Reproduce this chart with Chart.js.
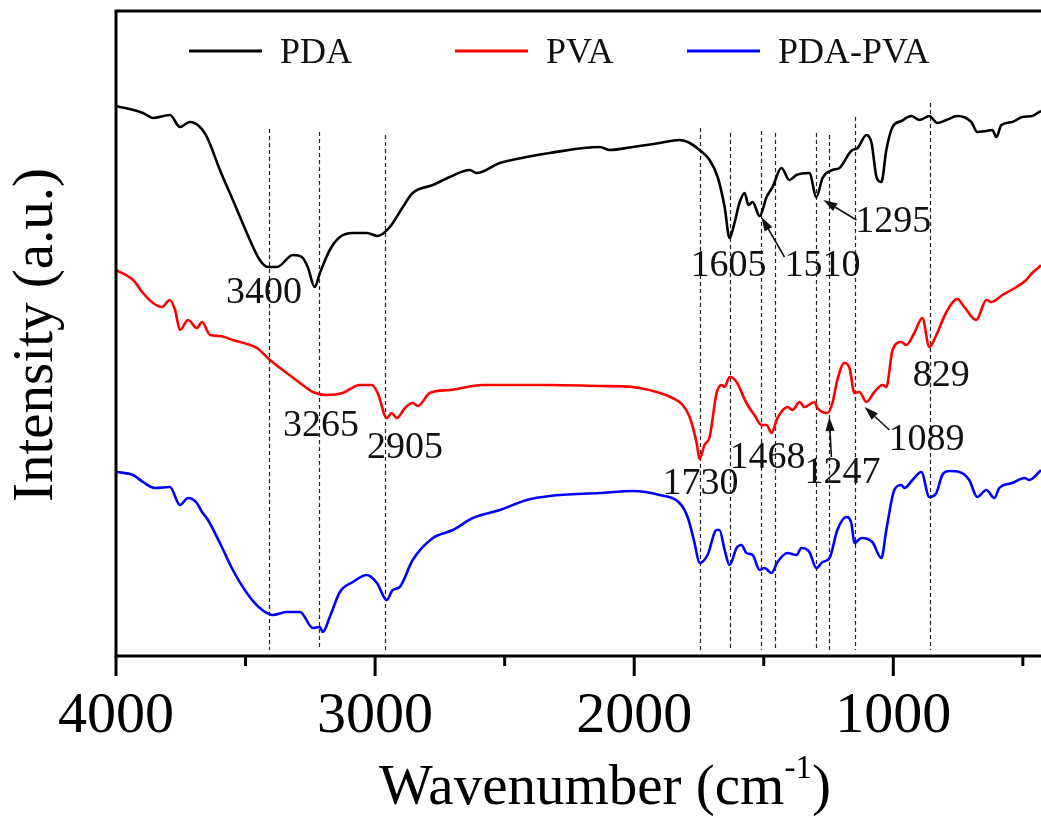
<!DOCTYPE html>
<html>
<head>
<meta charset="utf-8">
<title>FTIR PDA / PVA / PDA-PVA</title>
<script src="https://cdn.jsdelivr.net/npm/chart.js@4.4.1/dist/chart.umd.min.js"></script>
<style>
  html, body { margin: 0; padding: 0; background: #fff; overflow: hidden; }
  #wrap { width: 1041px; height: 818px; }
</style>
</head>
<body>
<div id="wrap"><canvas id="ftir" width="1041" height="818"></canvas></div>
<script>
// spectra (wavenumber in cm-1, intensity in a.u.)
const wnPDA = [4000, 3896, 3857, 3792, 3753, 3715, 3676, 3649, 3599, 3549, 3495, 3445, 3414, 3379, 3317, 3283, 3260, 3233, 3213, 3175, 3136, 3086, 3032, 2990, 2943, 2893, 2855, 2777, 2712, 2635, 2608, 2519, 2415, 2326, 2133, 2095, 2006, 1902, 1825, 1786, 1748, 1709, 1678, 1651, 1632, 1613, 1594, 1574, 1559, 1543, 1516, 1489, 1466, 1432, 1401, 1374, 1324, 1297, 1273, 1235, 1208, 1169, 1158, 1138, 1104, 1084, 1065, 1046, 1027, 1003, 969, 930, 899, 861, 830, 795, 753, 699, 676, 641, 618, 602, 583, 541, 502, 464, 437, 430];
const intPDA = [550, 543, 538, 541, 529, 534, 529, 519, 486, 456, 423, 396, 389, 389, 401, 399, 389, 369, 383, 406, 419, 423, 423, 420, 429, 449, 463, 471, 479, 486, 483, 493, 499, 503, 509, 506, 509, 513, 516, 513, 506, 496, 479, 449, 418, 433, 453, 463, 451, 454, 440, 459, 469, 488, 476, 481, 483, 459, 478, 486, 488, 503, 506, 508, 521, 513, 479, 474, 506, 529, 535, 540, 536, 540, 533, 536, 540, 534, 524, 525, 526, 519, 531, 534, 539, 540, 544, 545];

const wnPVA = [4000, 3934, 3896, 3857, 3823, 3792, 3772, 3753, 3722, 3688, 3668, 3637, 3599, 3549, 3495, 3456, 3406, 3341, 3290, 3240, 3186, 3125, 3059, 3013, 2990, 2955, 2936, 2916, 2885, 2855, 2835, 2789, 2712, 2585, 2454, 2326, 2133, 2006, 1914, 1852, 1813, 1786, 1759, 1748, 1729, 1709, 1682, 1663, 1651, 1632, 1605, 1567, 1536, 1509, 1489, 1470, 1447, 1408, 1389, 1362, 1343, 1304, 1293, 1254, 1235, 1216, 1189, 1169, 1150, 1131, 1104, 1073, 1042, 1027, 1003, 969, 950, 919, 888, 861, 834, 795, 753, 726, 680, 641, 622, 579, 525, 487, 464, 437, 430];
const intPVA = [386, 376, 363, 353, 349, 356, 346, 326, 336, 328, 334, 321, 320, 316, 312, 308, 296, 283, 273, 264, 261, 263, 271, 271, 263, 238, 243, 238, 248, 253, 250, 263, 266, 271, 271, 271, 270, 269, 264, 258, 251, 239, 213, 197, 211, 219, 263, 271, 269, 279, 274, 253, 241, 231, 231, 223, 238, 249, 246, 254, 249, 254, 248, 243, 253, 276, 293, 288, 263, 264, 254, 264, 271, 269, 306, 314, 311, 323, 338, 309, 321, 344, 357, 349, 336, 356, 354, 361, 369, 376, 383, 389, 391];

const wnMix = [4000, 3934, 3896, 3850, 3792, 3753, 3722, 3688, 3668, 3645, 3599, 3549, 3495, 3445, 3395, 3341, 3290, 3240, 3213, 3202, 3175, 3136, 3086, 3032, 2993, 2955, 2932, 2905, 2855, 2777, 2700, 2623, 2519, 2415, 2326, 2133, 2006, 1902, 1825, 1794, 1767, 1748, 1717, 1682, 1671, 1651, 1632, 1605, 1586, 1567, 1543, 1516, 1497, 1470, 1447, 1408, 1374, 1354, 1324, 1297, 1273, 1246, 1216, 1181, 1162, 1150, 1123, 1081, 1046, 1027, 996, 969, 957, 926, 892, 861, 834, 811, 784, 745, 707, 676, 641, 610, 591, 541, 494, 475, 437, 430];
const intMix = [184, 181, 174, 168, 169, 151, 158, 153, 144, 136, 113, 86, 63, 48, 41, 44, 44, 28, 29, 24, 39, 64, 74, 81, 73, 56, 66, 69, 96, 118, 126, 138, 146, 156, 160, 163, 165, 161, 153, 139, 113, 93, 101, 126, 126, 106, 91, 108, 111, 103, 101, 86, 88, 83, 94, 103, 101, 108, 104, 88, 94, 98, 126, 139, 133, 113, 118, 114, 98, 126, 166, 171, 168, 176, 184, 159, 163, 181, 185, 184, 176, 159, 166, 158, 168, 173, 178, 176, 184, 186];

// x axis ticks
const tickWn = [4000, 3500, 3000, 2500, 2000, 1500, 1000, 500];

// dashed marker lines: position and top end
const markWn = [3410, 3218, 2960, 1745, 1632, 1510, 1455, 1298, 1249, 1146, 858];
const markTop = [527, 524, 521, 528, 523, 525, 523, 523, 521, 539, 553];
const markBottom = 6;

// peak labels (centre of the text)
const peakText = ['3400', '3265', '2905', '1605', '1510', '1295', '1730', '1468', '1247', '1089', '829'];
const peakWn = [3429, 3209, 2885, 1636, 1273, 1000, 1744, 1486, 1196, 872, 815];
const peakInt = [363, 230, 208, 390, 390, 434, 172, 198, 183, 216, 280];

// arrows: tail -> tip
const arrowFromWn = [1420, 1142, 1239, 1015];
const arrowFromInt = [399, 436, 199, 226];
const arrowToWn = [1509, 1270, 1247, 1111];
const arrowToInt = [439, 456, 239, 249];

const serif = "'Times New Roman', 'Liberation Serif', serif";

function punten(wn, waarden) {
  return wn.map((x, i) => ({ x, y: waarden[i] }));
}

function lijn(label, wn, waarden, kleur) {
  return {
    label,
    data: punten(wn, waarden),
    borderColor: kleur,
    backgroundColor: kleur,
    borderWidth: 2.6,
    pointRadius: 0,
    cubicInterpolationMode: 'monotone',
    fill: false,
  };
}

function pijl(ctx, x1, y1, x2, y2) {
  const hoek = Math.atan2(y2 - y1, x2 - x1);
  const kop = 14;
  const bx = x2 - kop * Math.cos(hoek);
  const by = y2 - kop * Math.sin(hoek);
  ctx.beginPath();
  ctx.moveTo(x1, y1);
  ctx.lineTo(bx, by);
  ctx.stroke();
  ctx.beginPath();
  ctx.moveTo(x2, y2);
  ctx.lineTo(bx + 4.5 * Math.sin(hoek), by - 4.5 * Math.cos(hoek));
  ctx.lineTo(bx - 4.5 * Math.sin(hoek), by + 4.5 * Math.cos(hoek));
  ctx.closePath();
  ctx.fill();
}

const markeringen = {
  id: 'markeringen',
  beforeDatasetsDraw(chart) {
    const { ctx, scales: { x, y } } = chart;
    ctx.save();
    ctx.strokeStyle = '#222';
    ctx.lineWidth = 1.2;
    ctx.setLineDash([4, 3]);
    markWn.forEach((wn, i) => {
      const px = Math.round(x.getPixelForValue(wn)) + 0.5;
      ctx.beginPath();
      ctx.moveTo(px, y.getPixelForValue(markTop[i]));
      ctx.lineTo(px, y.getPixelForValue(markBottom));
      ctx.stroke();
    });
    ctx.restore();
  },
};

const kader = {
  id: 'kader',
  afterDatasetsDraw(chart) {
    const { ctx, chartArea: a, scales: { x } } = chart;
    ctx.save();
    ctx.strokeStyle = '#000';
    ctx.lineWidth = 3;
    ctx.beginPath();
    ctx.moveTo(a.right + 2, a.top);
    ctx.lineTo(a.left, a.top);
    ctx.lineTo(a.left, a.bottom);
    ctx.lineTo(a.right + 2, a.bottom);
    ctx.stroke();
    tickWn.forEach(wn => {
      const px = x.getPixelForValue(wn);
      const lengte = wn % 1000 === 0 ? 20 : 10;
      ctx.beginPath();
      ctx.moveTo(px, a.bottom);
      ctx.lineTo(px, a.bottom + lengte);
      ctx.stroke();
    });
    ctx.restore();
  },
};

const pieken = {
  id: 'pieken',
  afterDatasetsDraw(chart) {
    const { ctx, scales: { x, y } } = chart;
    ctx.save();
    ctx.fillStyle = '#111';
    ctx.strokeStyle = '#111';
    ctx.font = `38px ${serif}`;
    ctx.textAlign = 'center';
    ctx.textBaseline = 'middle';
    peakText.forEach((tekst, i) => {
      ctx.fillText(tekst, x.getPixelForValue(peakWn[i]), y.getPixelForValue(peakInt[i]));
    });
    ctx.lineWidth = 1.6;
    arrowFromWn.forEach((wn, i) => {
      pijl(ctx,
        x.getPixelForValue(wn), y.getPixelForValue(arrowFromInt[i]),
        x.getPixelForValue(arrowToWn[i]), y.getPixelForValue(arrowToInt[i]));
    });
    ctx.restore();
  },
};

const legendaEnTitels = {
  id: 'legendaEnTitels',
  afterDraw(chart) {
    const { ctx } = chart;
    ctx.save();
    // legenda
    const startX = [189, 455, 687];
    ctx.font = `36px ${serif}`;
    ctx.textBaseline = 'alphabetic';
    ctx.textAlign = 'left';
    chart.data.datasets.forEach((ds, i) => {
      ctx.strokeStyle = ds.borderColor;
      ctx.lineWidth = 3;
      ctx.beginPath();
      ctx.moveTo(startX[i], 51);
      ctx.lineTo(startX[i] + 73, 51);
      ctx.stroke();
      ctx.fillStyle = '#111';
      ctx.fillText(ds.label, startX[i] + 91, 63);
    });

    // x-as titel met superscript
    ctx.fillStyle = '#000';
    const hoofd = `57px ${serif}`;
    const sup = `33px ${serif}`;
    const delen = [['Wavenumber (cm', hoofd, 0], ['-1', sup, -26], [')', hoofd, 0]];
    let breedte = 0;
    delen.forEach(([t, f]) => { ctx.font = f; breedte += ctx.measureText(t).width; });
    let px = 605 - breedte / 2;
    delen.forEach(([t, f, dy]) => {
      ctx.font = f;
      ctx.fillText(t, px, 804 + dy);
      px += ctx.measureText(t).width;
    });

    // y-as titel
    ctx.translate(52, 335);
    ctx.rotate(-Math.PI / 2);
    ctx.font = `57px ${serif}`;
    ctx.textAlign = 'center';
    ctx.fillText('Intensity (a.u.)', 0, 0);
    ctx.restore();
  },
};

new Chart(document.getElementById('ftir'), {
  type: 'line',
  data: {
    datasets: [
      lijn('PDA', wnPDA, intPDA, '#000000'),
      lijn('PVA', wnPVA, intPVA, '#ff0000'),
      lijn('PDA-PVA', wnMix, intMix, '#0000ff'),
    ],
  },
  options: {
    responsive: false,
    animation: false,
    layout: { padding: { top: 11, right: 0, left: 0, bottom: 0 } },
    plugins: { legend: { display: false }, tooltip: { enabled: false } },
    scales: {
      x: {
        type: 'linear',
        reverse: true,
        min: 430,
        max: 4000,
        afterBuildTicks: s => { s.ticks = tickWn.map(v => ({ value: v })); },
        afterFit: s => {
          s.height = 162;
          s.paddingLeft = 0;
          s.paddingRight = 0;
        },
        grid: { display: false, drawTicks: false },
        border: { display: false },
        ticks: {
          padding: 26,
          maxRotation: 0,
          autoSkip: false,
          color: '#000',
          font: { family: serif, size: 58 },
          callback: v => (v % 1000 === 0 ? String(v) : ''),
        },
      },
      y: {
        min: 0,
        max: 645,
        afterFit: s => { s.width = 116; },
        grid: { display: false, drawTicks: false },
        border: { display: false },
        ticks: { display: false },
      },
    },
  },
  plugins: [markeringen, kader, pieken, legendaEnTitels],
});
</script>
</body>
</html>
